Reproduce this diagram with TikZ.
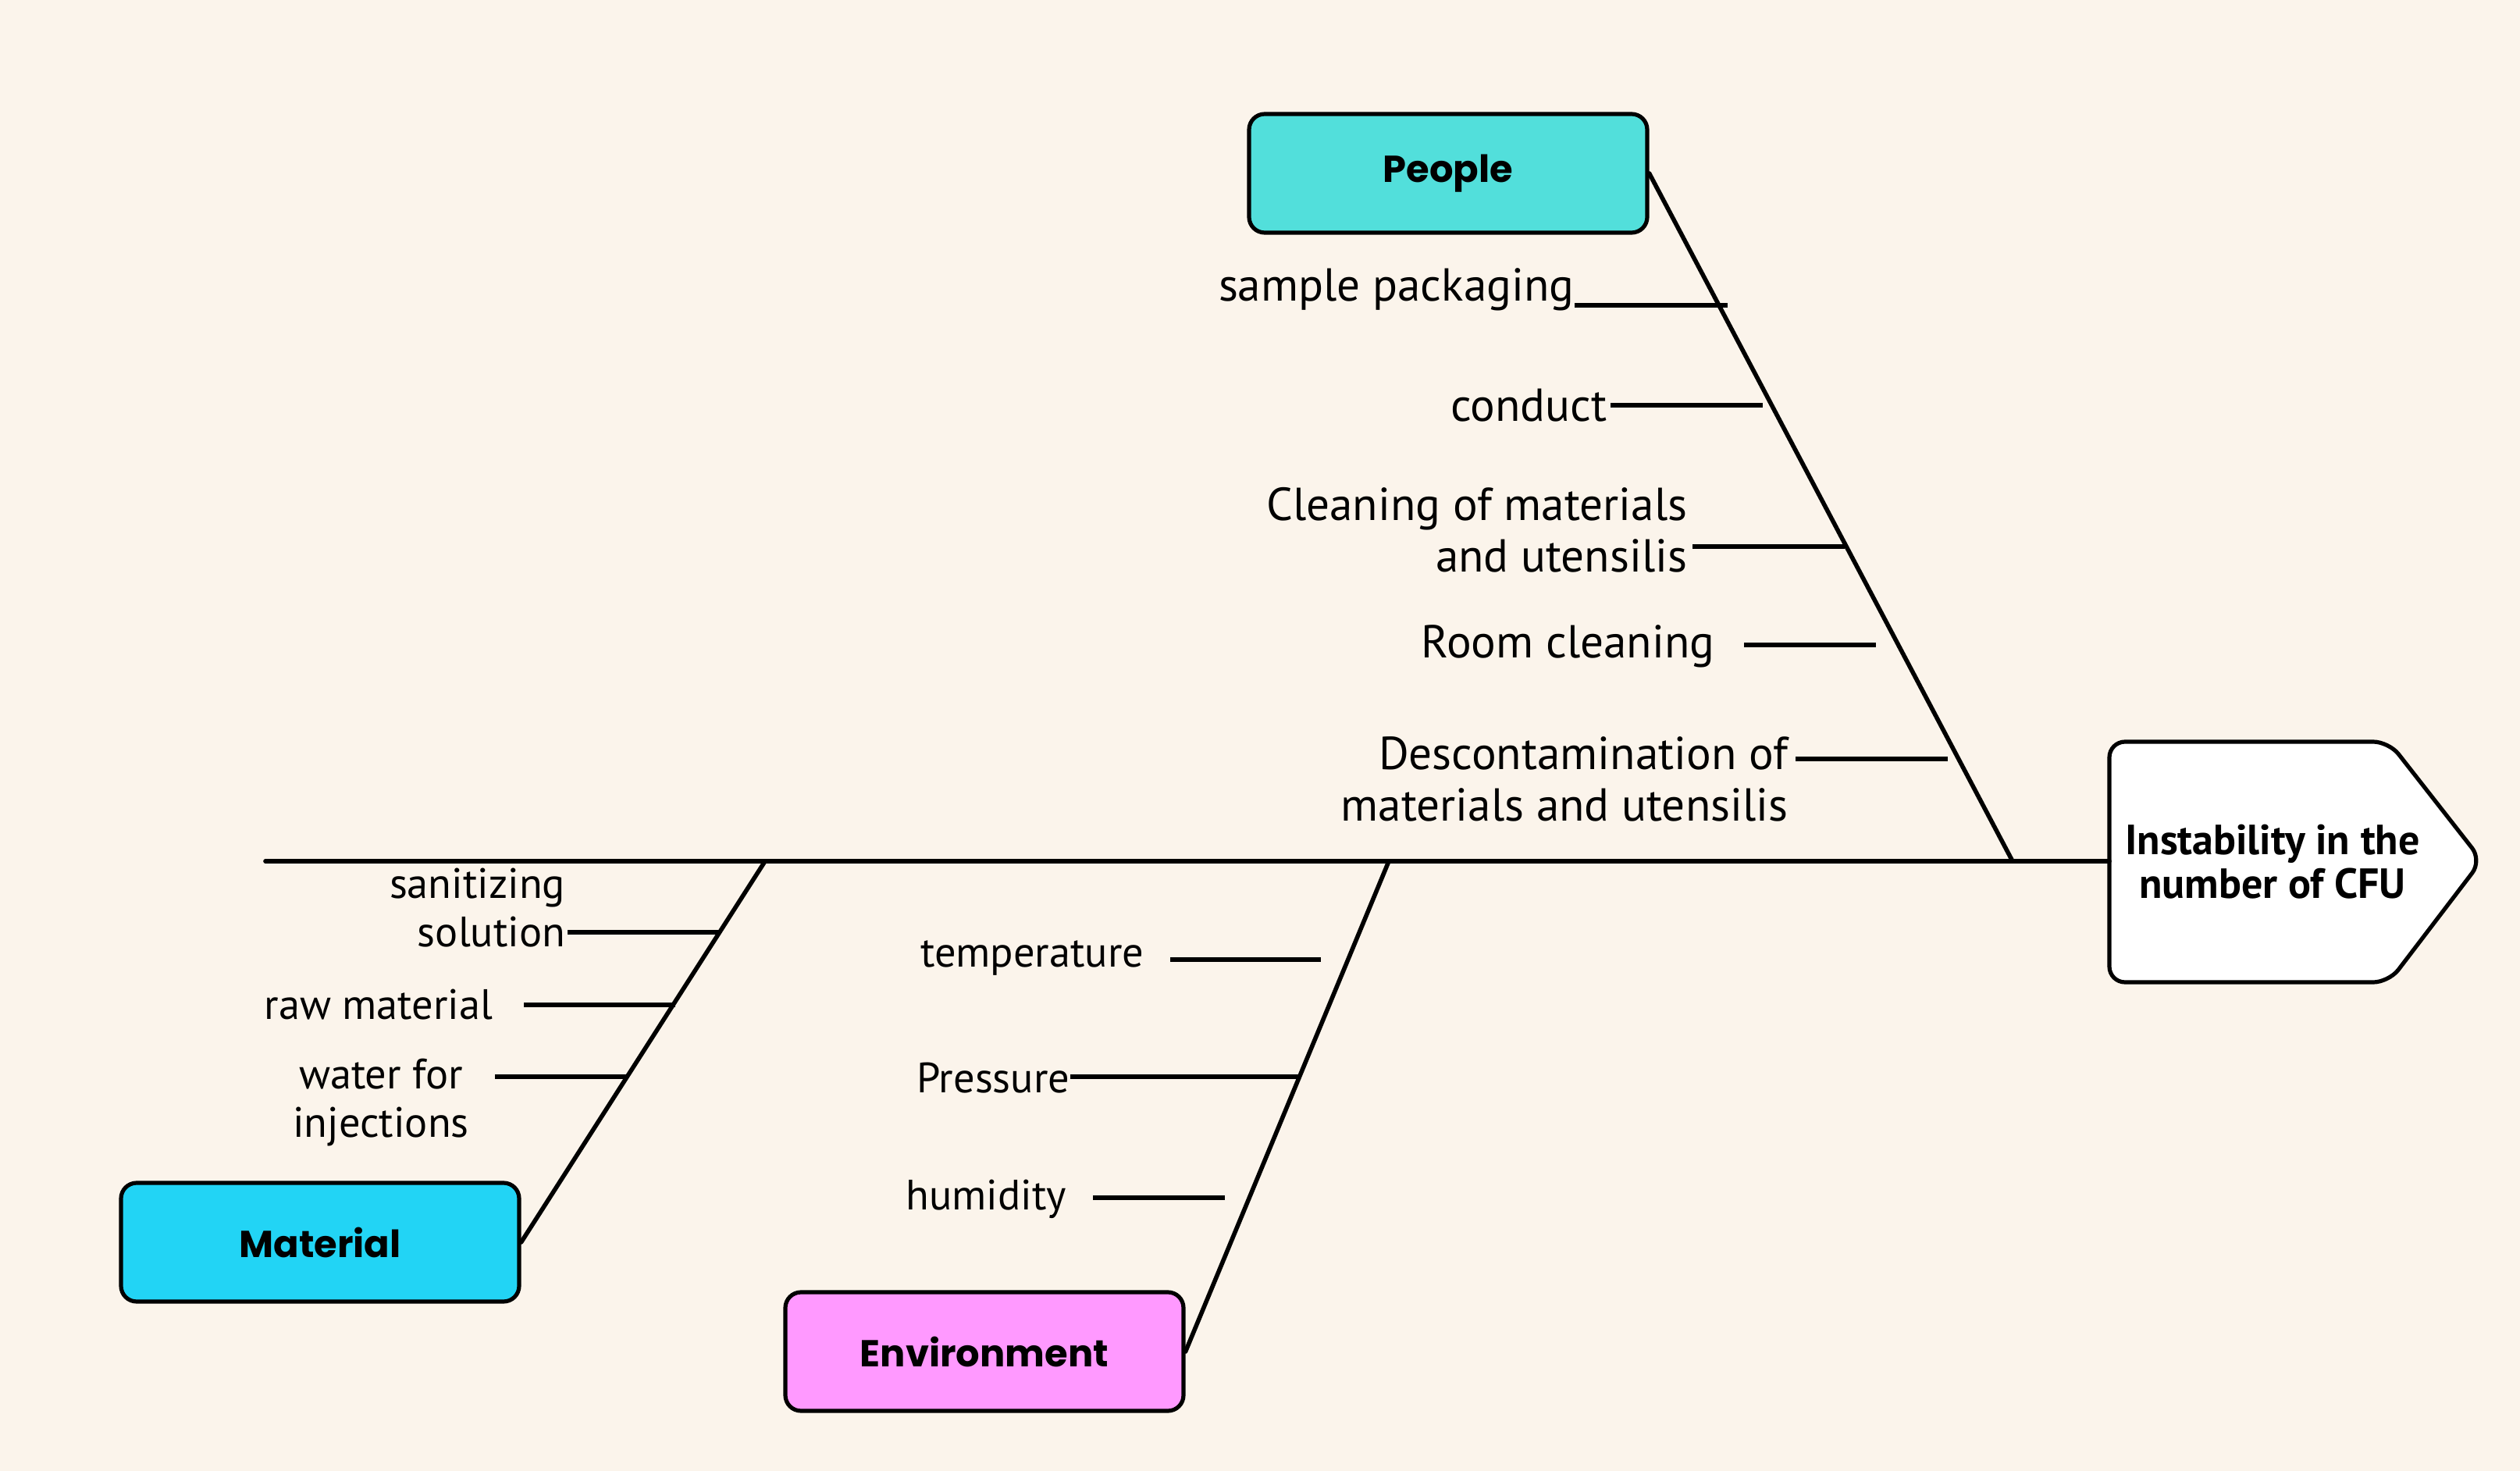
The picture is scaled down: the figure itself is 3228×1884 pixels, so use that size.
\documentclass[tikz,border=0pt]{standalone}
\usepackage{fontspec}
\setmainfont{PT Sans}
\newfontfamily\boldlab{Poppins}
\definecolor{bg}{HTML}{FBF4EB}
\definecolor{peoplec}{HTML}{52DFDB}
\definecolor{materialc}{HTML}{22D4F5}
\definecolor{envc}{HTML}{FF99FF}
\tikzset{
  catbox/.style={draw=black, line width=1.3pt, rounded corners=5pt, minimum width=127.5pt, minimum height=38pt, inner sep=0pt, font=\boldlab\bfseries\fontsize{12}{14}\selectfont},
  lab/.style={inner sep=0pt, font=\fontsize{14.8}{16.5}\selectfont},
  slab/.style={inner sep=0pt, font=\fontsize{13.6}{15.5}\selectfont},
  bone/.style={line width=1.4pt, line cap=round},
  twig/.style={line width=1.7pt},
}
\begin{document}
\begin{tikzpicture}[x=0.25pt, y=-0.25pt]
\useasboundingbox (0,0) rectangle (3228,1884);
\fill[bg] (0,0) rectangle (3228,1884);

% head
\draw[line width=1.3pt, fill=white, rounded corners=5pt]
  (2702,950) -- (3060,950) -- (3179,1102) -- (3060,1258) -- (2702,1258) -- cycle;
\node[inner sep=0pt, align=center, font=\bfseries\fontsize{13.5}{14}\selectfont] (head) at (2911,1104) {Instability in the\\number of CFU};
\coordinate (headL) at (2702,1103);
\coordinate (spineL) at (340,1103);
\draw[bone] (spineL) -- (headL);

% category boxes
\node[catbox, fill=peoplec] (people) at (1855,222) {People};
\node[catbox, fill=materialc] (material) at (410,1591) {Material};
\node[catbox, fill=envc] (env) at (1261,1731) {Environment};

\coordinate (pJ) at (2578,1103);
\coordinate (mJ) at (980,1103);
\coordinate (eJ) at (1779,1103);
\draw[bone] (people.east) -- (pJ);
\draw[bone] (material.east) -- (mJ);
\draw[bone] (env.east) -- (eJ);

% People causes
\node[lab, anchor=east] (sp) at (2017,371) {sample packaging};
\coordinate (sp1) at (2017,391); \coordinate (sp2) at (2213,391);
\draw[twig] (sp1) -- (sp2);
\node[lab, anchor=east] (co) at (2059,519) {conduct};
\coordinate (co1) at (2063,519); \coordinate (co2) at (2258,519);
\draw[twig] (co1) -- (co2);
\node[lab, anchor=east, align=right] (cl) at (2162,679) {Cleaning of materials\\and utensilis};
\coordinate (cl1) at (2168,700); \coordinate (cl2) at (2363,700);
\draw[twig] (cl1) -- (cl2);
\node[lab, anchor=east] (rc) at (2197,828) {Room cleaning};
\coordinate (rc1) at (2234,826); \coordinate (rc2) at (2403,826);
\draw[twig] (rc1) -- (rc2);
\node[lab, anchor=east, align=right] (de) at (2291,998) {Descontamination of\\materials and utensilis};
\coordinate (de1) at (2300,972); \coordinate (de2) at (2495,972);
\draw[twig] (de1) -- (de2);

% Material causes
\node[slab, anchor=east, align=right] (sa) at (725,1163) {sanitizing\\solution};
\coordinate (sa1) at (727,1194); \coordinate (sa2) at (920,1194);
\draw[twig] (sa1) -- (sa2);
\node[slab, anchor=east] (rm) at (632,1287) {raw material};
\coordinate (rm1) at (671,1287); \coordinate (rm2) at (865,1287);
\draw[twig] (rm1) -- (rm2);
\node[slab, align=center] (wa) at (488,1412) {water for\\injections};
\coordinate (wa1) at (634,1379); \coordinate (wa2) at (803,1379);
\draw[twig] (wa1) -- (wa2);

% Environment causes
\node[slab, anchor=east] (te) at (1466,1227) {temperature};
\coordinate (te1) at (1499,1229); \coordinate (te2) at (1692,1229);
\draw[twig] (te1) -- (te2);
\node[slab, anchor=east] (pr) at (1371,1381) {Pressure};
\coordinate (pr1) at (1371,1379); \coordinate (pr2) at (1663,1379);
\draw[twig] (pr1) -- (pr2);
\node[slab, anchor=east] (hu) at (1367,1536) {humidity};
\coordinate (hu1) at (1400,1534); \coordinate (hu2) at (1569,1534);
\draw[twig] (hu1) -- (hu2);
\end{tikzpicture}
\end{document}
